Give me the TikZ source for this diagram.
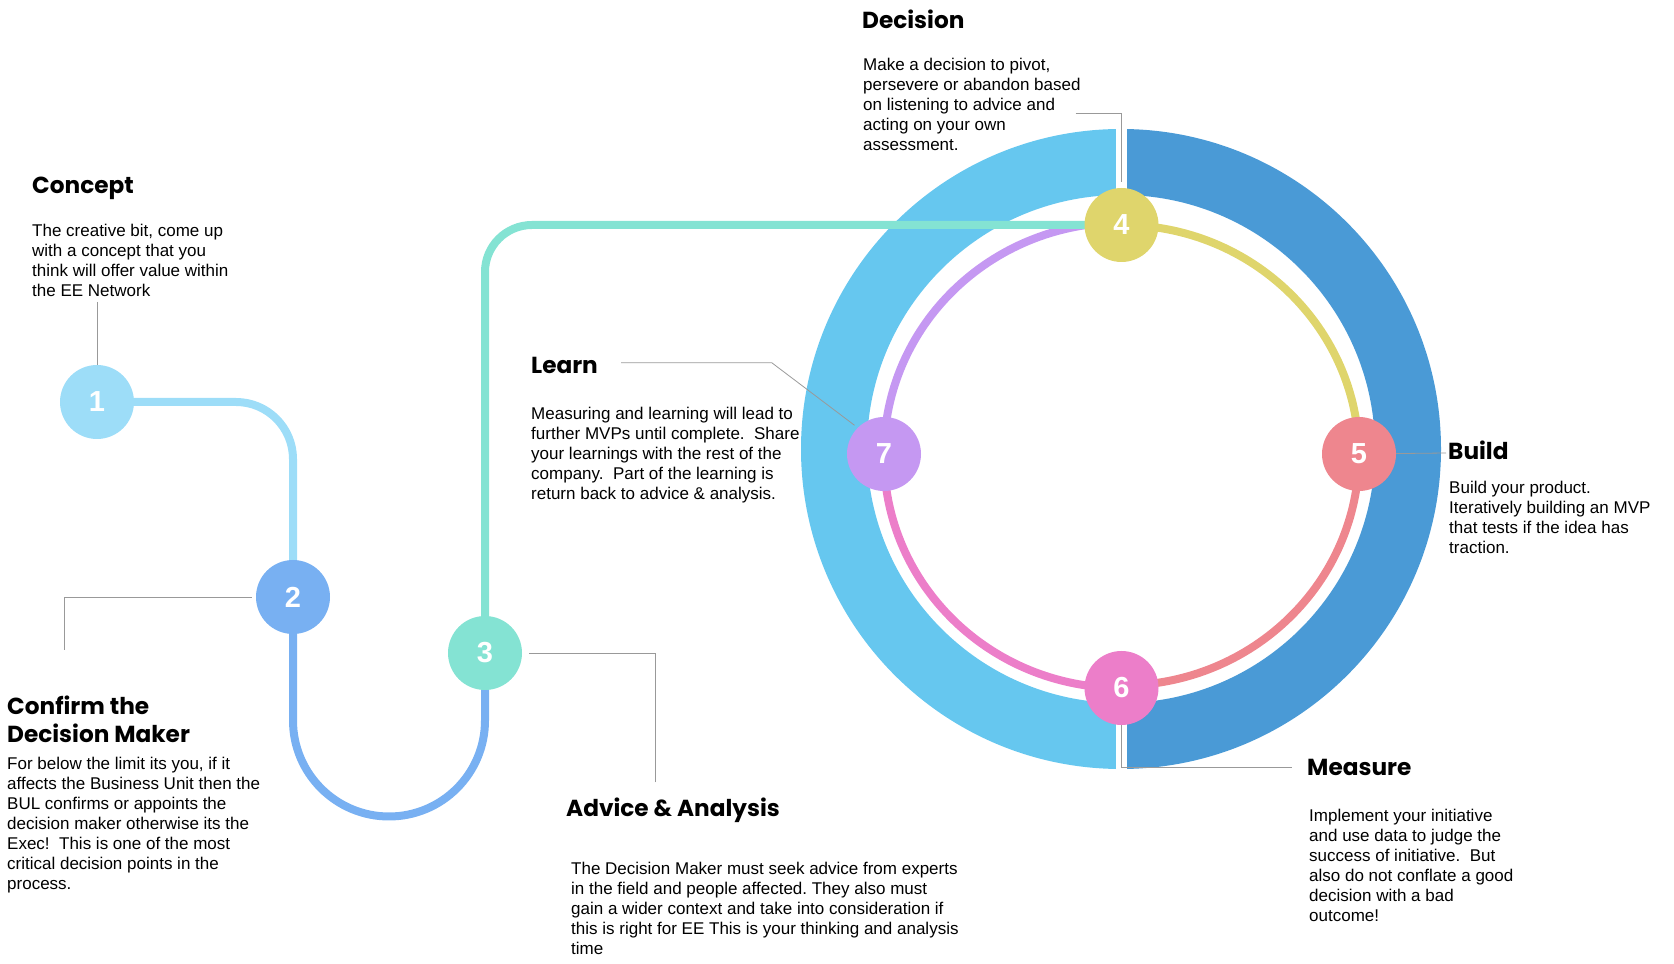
\documentclass[tikz,border=0pt]{standalone}
\usepackage{fontspec}
\setmainfont{Liberation Sans}
\newfontfamily\headfont{Poppins}
\usetikzlibrary{positioning}
\definecolor{one}{HTML}{9DDDF8}
\definecolor{two}{HTML}{78B0F2}
\definecolor{three}{HTML}{84E3D3}
\definecolor{four}{HTML}{DFD56C}
\definecolor{five}{HTML}{EE868E}
\definecolor{six}{HTML}{EC7EC9}
\definecolor{seven}{HTML}{C598F2}
\definecolor{ringleft}{HTML}{66C7EF}
\definecolor{ringright}{HTML}{4A9AD6}
\pgfdeclarelayer{ring}
\pgfdeclarelayer{lines}
\pgfsetlayers{ring,lines,main}
\frenchspacing

\begin{document}
\begin{tikzpicture}[x=1pt,y=1pt,
  dot/.style={circle,minimum size=74pt,inner sep=0pt,text=white,font=\fontsize{29}{29}\selectfont\bfseries},
  link/.style={line width=8pt},
  lead/.style={draw=black!40,line width=0.8pt},
  head/.style={anchor=base west,inner sep=0pt,align=left,font=\headfont\bfseries\fontsize{23.2}{28}\selectfont},
  txt/.style={anchor=base west,inner sep=0pt,align=left,font=\fontsize{17}{20}\selectfont}]
\useasboundingbox (0,0) rectangle (1674,964);

% outer ring
\begin{pgfonlayer}{ring}
\fill[ringleft] (1121,835) arc[start angle=90,end angle=270,radius=320] -- (1121,261) arc[start angle=270,end angle=90,radius=254] -- cycle;
\fill[ringright] (1121,835) arc[start angle=90,end angle=-90,radius=320] -- (1121,261) arc[start angle=-90,end angle=90,radius=254] -- cycle;
\fill[white] (1116,180) rectangle (1127,850);
\end{pgfonlayer}

% steps
\node[dot,fill=one] (n1) at (97,562) {1};
\node[dot,fill=two] (n2) at (293,367) {2};
\node[dot,fill=three] (n3) at (485,311) {3};
\node[dot,fill=four] (n4) at (1121.5,739) {4};
\node[dot,fill=five] (n5) at (1359,510) {5};
\node[dot,fill=six] (n6) at (1121.5,276) {6};
\node[dot,fill=seven] (n7) at (884,510) {7};

\begin{pgfonlayer}{lines}
\draw[link,one,rounded corners=57pt] (n1.center) -- (n1 -| n2) -- (n2.center);
\draw[link,two] (n2.center) -- (293,243.5) arc[start angle=180,end angle=360,radius=96] -- (n3.center);
\draw[link,four] (n4.center) arc[start angle=90,end angle=0,x radius=237.5,y radius=231.5];
\draw[link,five] (n5.center) arc[start angle=0,end angle=-90,x radius=237.5,y radius=231.5];
\draw[link,six] (n6.center) arc[start angle=270,end angle=180,x radius=237.5,y radius=231.5];
\draw[link,seven] (n7.center) arc[start angle=180,end angle=90,x radius=237.5,y radius=231.5];
\draw[link,three,rounded corners=47pt] (n3.center) -- (n3 |- n4) -- (n4.center);
\end{pgfonlayer}

% captions (placed at the baseline of their last line)
\node[head] (concept) at (32,770.7) {Concept};
\node[txt] (conceptText) at (32,667) {The creative bit, come up\\with a concept that you\\think will offer value within\\the EE Network};
\node[head] (confirm) at (7,221) {Confirm the\\Decision Maker};
\node[txt] (confirmText) at (7,74.7) {For below the limit its you, if it\\affects the Business Unit then the\\BUL confirms or appoints the\\decision maker otherwise its the\\Exec!~ This is one of the most\\critical decision points in the\\process.};
\node[head] (advice) at (566,147.3) {Advice \& Analysis};
\node[txt] (adviceText) at (571,9) {The Decision Maker must seek advice from experts\\in the field and people affected. They also must\\gain a wider context and take into consideration if\\this is right for EE This is your thinking and analysis\\time};
\node[head] (decision) at (862,935.7) {Decision};
\node[txt] (decisionText) at (863,813) {Make a decision to pivot,\\persevere or abandon based\\on listening to advice and\\acting on your own\\assessment.};
\node[head] (build) at (1448,504) {Build};
\node[txt] (buildText) at (1449,410) {Build your product.\\Iteratively building an MVP\\that tests if the idea has\\traction.};
\node[head] (measure) at (1307,188) {Measure};
\node[txt] (measureText) at (1309,42.3) {Implement your initiative\\and use data to judge the\\success of initiative.~ But\\also do not conflate a good\\decision with a bad\\outcome!};
\node[head] (learn) at (531,590) {Learn};
\node[txt] (learnText) at (531,464) {Measuring and learning will lead to\\further MVPs until complete.~ Share\\your learnings with the rest of the\\company.~ Part of the learning is\\return back to advice \& analysis.};

% leaders
\coordinate (c1) at (97,662);
\coordinate (c2) at (64,314);
\coordinate (c3) at (655.5,181.5);
\coordinate (c4) at (1075.7,851);
\coordinate (c5) at (1446,511);
\coordinate (c6) at (1292,197);
\coordinate (c7) at (621,601.3);
\draw[lead] (c1) -- (n1);
\draw[lead,shorten >=4pt] (c2) |- (n2);
\draw[lead,shorten >=7pt] (c3) |- (n3);
\draw[lead,shorten >=6pt] (c4) -| (n4);
\draw[lead] (n5) -- (c5);
\draw[lead] (n6) |- (c6);
\draw[lead,shorten >=4pt] (c7) -- (771.7,601.3) -- (n7.north west);
\end{tikzpicture}
\end{document}
